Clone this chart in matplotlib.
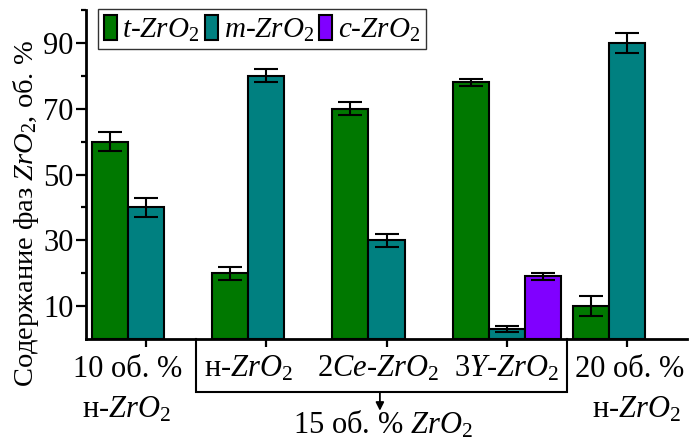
import matplotlib
matplotlib.use("Agg")
import matplotlib.pyplot as plt
from matplotlib.ticker import FixedLocator
import numpy as np

plt.rcParams['font.family'] = ['Liberation Serif', 'DejaVu Serif']
plt.rcParams['mathtext.fontset'] = 'custom'
plt.rcParams['mathtext.rm'] = 'Liberation Serif'
plt.rcParams['mathtext.it'] = 'Liberation Serif:italic'
plt.rcParams['mathtext.bf'] = 'Liberation Serif:bold'

# ---- data ----
groups = ["10 об. % н-ZrO2", "н-ZrO2", "2Ce-ZrO2", "3Y-ZrO2", "20 об. % н-ZrO2"]
t_vals = [60, 20, 70, 78, 10]
t_err = [3, 2, 2, 1, 3]
m_vals = [40, 80, 30, 3, 90]
m_err = [3, 2, 2, 1, 3]
c_vals = [19]
c_err = [1]
c_groups = [3]  # index of group having c-ZrO2

series_labels = [r"$\mathit{t}$-$\mathit{ZrO}_2$", r"$\mathit{m}$-$\mathit{ZrO}_2$", r"$\mathit{c}$-$\mathit{ZrO}_2$"]
line1_labels = ["10 об. %", r"н-$\mathit{ZrO}_2$", r"2$\mathit{Ce}$-$\mathit{ZrO}_2$",
                r"3$\mathit{Y}$-$\mathit{ZrO}_2$", "20 об. %"]
line2_labels = [r"н-$\mathit{ZrO}_2$", None, None, None, r"н-$\mathit{ZrO}_2$"]
bracket_label = r"15 об. % $\mathit{ZrO}_2$"
ylabel = r"Содержание фаз $\mathit{ZrO}_2$, об. %"
yticks_major = [10, 30, 50, 70, 90]
yticks_minor = [20, 40, 60, 80, 100]

colors = ['#007800', '#008080', '#8000ff']

# ---- figure ----
W, H = 698, 446
fig = plt.figure(figsize=(W / 100, H / 100), dpi=100)
ax = fig.add_axes([86 / W, 1 - 339 / H, 601 / W, 329 / H])

x = np.arange(1, len(groups) + 1)
bw = 0.3
ekw = dict(ecolor='black', elinewidth=1.5, capsize=8.5, capthick=1.5)
bkw = dict(edgecolor='black', linewidth=1.5)

ax.bar(x - bw, t_vals, bw, yerr=t_err, color=colors[0], label=series_labels[0], error_kw=ekw, **bkw)
ax.bar(x, m_vals, bw, yerr=m_err, color=colors[1], label=series_labels[1], error_kw=ekw, **bkw)
ax.bar(x[c_groups] + bw, c_vals, bw, yerr=c_err, color=colors[2], label=series_labels[2], error_kw=ekw, **bkw)

ax.set_xlim(0.5, 5.5)
ax.set_ylim(0, 100)
for s in ['top', 'right']:
    ax.spines[s].set_visible(False)
for s in ['left', 'bottom']:
    ax.spines[s].set_linewidth(2)

ax.yaxis.set_major_locator(FixedLocator(yticks_major))
ax.yaxis.set_minor_locator(FixedLocator(yticks_minor))
ax.tick_params(axis='y', which='major', direction='out', length=7, width=1.6, labelsize=22, pad=2)
ax.tick_params(axis='y', which='minor', direction='out', length=3.5, width=1.6)
ax.set_xticks(x)
ax.set_xticklabels([])
ax.tick_params(axis='x', which='major', direction='out', length=6, width=1.6)

ax.text(-0.100, 0.38, ylabel, transform=ax.transAxes, rotation=90,
        ha='center', va='center', fontsize=20.5)

# group labels (positions shifted slightly as in the original)
xt = ax.get_xaxis_transform()
l1_offsets = [-0.15, -0.15, -0.075, 0.0, 0.02]
l2_offsets = [-0.16, 0, 0, 0, 0.08]
for i in range(len(groups)):
    ax.text(x[i] + l1_offsets[i], -0.1155, line1_labels[i], transform=xt,
            ha='center', va='baseline', fontsize=22)
    if line2_labels[i]:
        ax.text(x[i] + l2_offsets[i], -0.240, line2_labels[i], transform=xt,
                ha='center', va='baseline', fontsize=22)

# bracket for 15 vol.% group
bx0, bx1, by = 1.415, 4.5, -0.161
ax.plot([bx0, bx0, bx1, bx1], [0, by, by, 0], color='black', lw=1.5,
        transform=xt, clip_on=False, solid_joinstyle='miter')
ax.annotate('', xy=(2.945, -0.218), xytext=(2.945, by), xycoords=xt, textcoords=xt,
            arrowprops=dict(arrowstyle='-|>', color='black', lw=1.3,
                            mutation_scale=12, shrinkA=0, shrinkB=0))
ax.text(2.97, -0.286, bracket_label, transform=xt, ha='center', va='baseline', fontsize=22)

leg = ax.legend(loc='upper left', bbox_to_anchor=(98 / W, 1 - 9 / H), bbox_transform=fig.transFigure,
                ncol=3, fontsize=21, frameon=True, fancybox=False, borderaxespad=0,
                handlelength=0.44, handleheight=0.95, handletextpad=0.2,
                columnspacing=0.18, borderpad=0.2)
leg.get_frame().set_edgecolor('black')
leg.get_frame().set_linewidth(1.0)

fig.savefig('out.png', dpi=100)
